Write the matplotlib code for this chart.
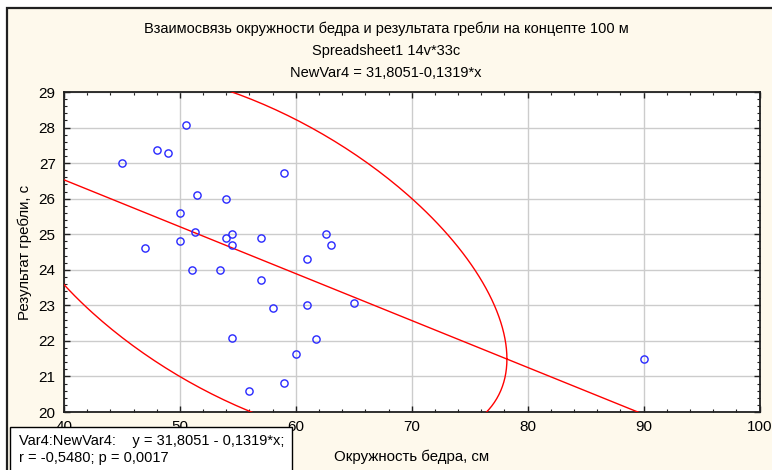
import numpy as np
import matplotlib
matplotlib.use("Agg")
import matplotlib.pyplot as plt
from matplotlib.patches import Rectangle
from matplotlib.ticker import MultipleLocator

plt.rcParams['font.family'] = ['Liberation Sans', 'DejaVu Sans']

# Thigh circumference (cm) and rowing result over 100 m (s)
thigh_cm = [45.0, 48.0, 49.0, 50.5, 59.0, 51.5, 54.0, 50.0, 51.3, 54.0,
            54.5, 54.5, 57.0, 62.6, 63.0, 47.0, 50.0, 61.0, 51.0, 53.5,
            57.0, 58.0, 61.0, 65.0, 54.5, 61.7, 60.0, 59.0, 56.0, 90.0]
result_s = [27.0, 27.38, 27.29, 28.06, 26.71, 26.09, 25.99, 25.59, 25.07, 24.88,
            25.01, 24.70, 24.88, 25.01, 24.69, 24.61, 24.80, 24.30, 23.99, 23.99,
            23.71, 22.93, 23.01, 23.07, 22.08, 22.05, 21.62, 20.82, 20.60, 21.49]

# Fitted regression NewVar4 = a + b*x
intercept = 31.8051
slope = -0.1319
r_value = -0.5480
p_value = 0.0017
ellipse_scale = 2.67

x_ticks = [40, 50, 60, 70, 80, 90, 100]
y_ticks = [20, 21, 22, 23, 24, 25, 26, 27, 28, 29]

title_lines = ["Взаимосвязь окружности бедра и результата гребли на концепте 100 м",
               "Spreadsheet1 14v*33c",
               "NewVar4 = 31,8051-0,1319*x"]
x_label = "Окружность бедра, см"
y_label = "Результат гребли, с"

W, H = 772, 470
fig = plt.figure(figsize=(W / 100, H / 100), dpi=100)
fig.patch.set_facecolor('white')

# Cream panel with a dark frame on the top and left
panel = Rectangle((7 / W, -0.1), 1.2, (H - 8) / H + 0.1, transform=fig.transFigure,
                  facecolor='#FEF9EC', edgecolor='#202020', linewidth=1.6, zorder=-10)
fig.add_artist(panel)

ax = fig.add_axes([64 / W, 1 - 412 / H, (759.5 - 64) / W, (412 - 92) / H])
ax.set_facecolor('white')

x = np.array(thigh_cm)
y = np.array(result_s)

# Regression line
xl = np.linspace(x_ticks[0], x_ticks[-1], 200)
ax.plot(xl, intercept + slope * xl, color='#FF0000', lw=1.0, zorder=3)

# Normal probability ellipse around the data
cov = np.cov(x, y)
L = np.linalg.cholesky(cov)
t = np.linspace(0, 2 * np.pi, 400)
circ = np.vstack([np.cos(t), np.sin(t)])
ell = L @ circ * ellipse_scale
ax.plot(x.mean() + ell[0], y.mean() + ell[1], color='#FF0000', lw=1.0, zorder=3)

# Observations
ax.plot(x, y, linestyle='none', marker='o', markersize=5.2, markerfacecolor='none',
        markeredgecolor='#2828FF', markeredgewidth=1.0, zorder=4)

ax.set_xlim(x_ticks[0], x_ticks[-1])
ax.set_ylim(y_ticks[0], y_ticks[-1])
ax.set_xticks(x_ticks)
ax.set_yticks(y_ticks)
ax.xaxis.set_minor_locator(MultipleLocator(2))
ax.yaxis.set_minor_locator(MultipleLocator(0.2))
ax.tick_params(which='both', direction='in', top=True, right=True, colors='#202020',
               labelsize=11, labelcolor='black')
ax.tick_params(which='major', length=4, width=1.0, pad=6)
ax.tick_params(which='minor', length=2.5, width=0.8)
ax.grid(True, which='major', color='#CCCCCC', lw=1.0, zorder=0)
ax.set_axisbelow(True)
for s in ax.spines.values():
    s.set_color('#202020')
    s.set_linewidth(1.3)

ax.set_xlabel(x_label, fontsize=10.8, labelpad=11)
ax.set_ylabel(y_label, fontsize=10.8, labelpad=5)

for i, line in enumerate(title_lines):
    fig.text(0.5, 1 - (29 + i * 22) / H, line, ha='center', va='center', fontsize=10.5)

# Regression summary box
box = Rectangle((10 / W, -0.1), 282 / W, (H - 427) / H + 0.1, transform=fig.transFigure,
                facecolor='white', edgecolor='black', linewidth=1.0, zorder=5)
fig.add_artist(box)
fmt = lambda v, d: f"{v:.{d}f}".replace('.', ',')
fig.text(19 / W, 1 - 441 / H,
         f"Var4:NewVar4:    y = {fmt(intercept, 4)} - {fmt(-slope, 4)}*x;",
         ha='left', va='center', fontsize=10.5, zorder=6)
fig.text(19 / W, 1 - 458 / H, f"r = {fmt(r_value, 4)}; p = {fmt(p_value, 4)}",
         ha='left', va='center', fontsize=10.5, zorder=6)

fig.savefig("out.png", dpi=100, facecolor=fig.get_facecolor())
